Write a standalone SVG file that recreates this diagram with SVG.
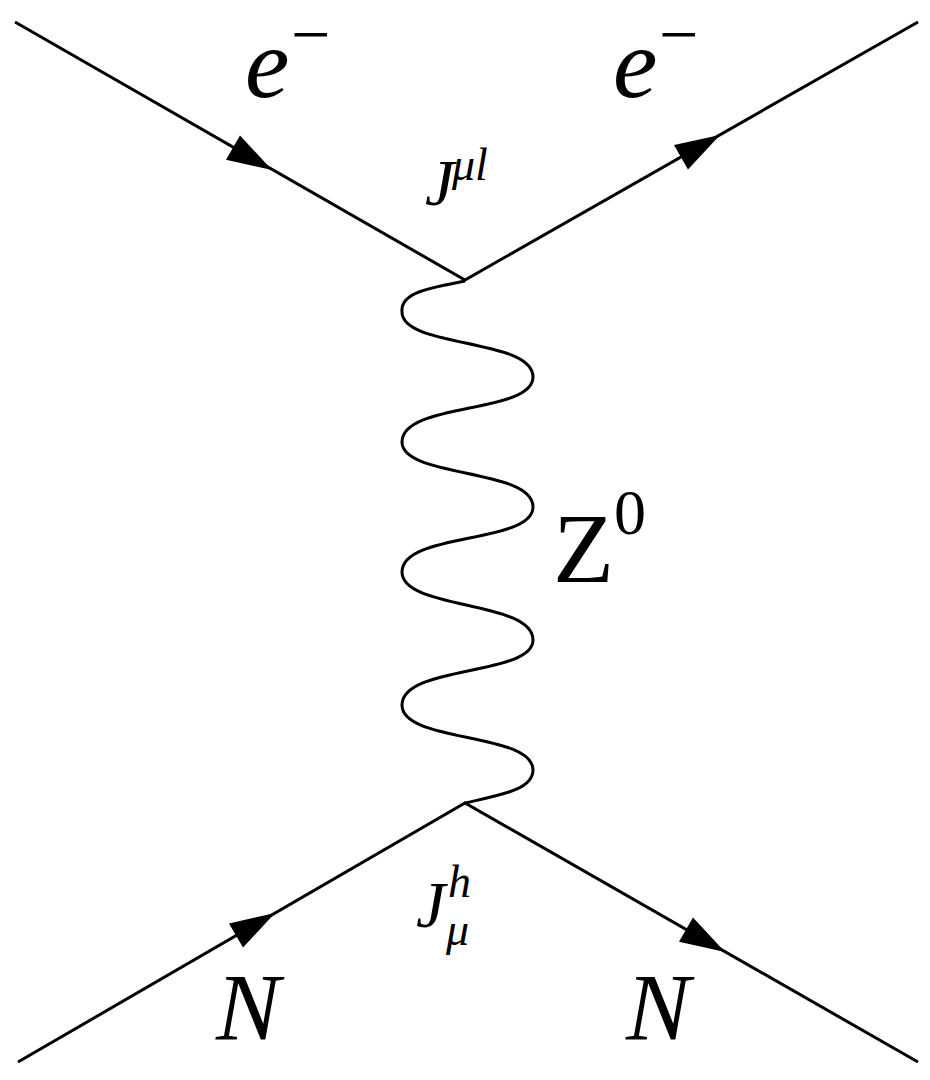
<svg xmlns="http://www.w3.org/2000/svg" width="930" height="1080" viewBox="0 0 930 1080">
<style>
.l{stroke:#000;stroke-width:3;fill:none}
.a{fill:#000}
.t{font-family:"Liberation Serif","Times New Roman","DejaVu Serif",serif;fill:#000}
.i{font-style:italic}
</style>
<rect width="930" height="1080" fill="#fff"/>
<g id="connectors">
<path class="l" d="M15,22 L465,280 L918,22"/>
<path class="l" d="M18,1062 L465,803 L918,1062"/>
<path class="l" d="M465,281 C430,288 400,292 402,312 C402,348 533,338 533,377 C533,414 402,402 402,442 C402,478 533,468 533,507 C533,544 402,532 402,572 C402,610 533,600 533,640 C533,676 402,665 402,705 C402,743 533,732 533,770 C533,790 500,795 465,803"/>
<polygon class="a" points="272,170 226,159.7 240,135.5"/>
<polygon class="a" points="720,135 688,169.5 674,145.1"/>
<polygon class="a" points="275,913 243,947.6 229,923.4"/>
<polygon class="a" points="725,952 679,941.8 693,917.6"/>
</g>
<g id="labels">
<text class="t i" x="245" y="97" font-size="100">e</text>
<text class="t" x="291" y="58" font-size="70">−</text>
<text class="t i" x="613" y="97" font-size="100">e</text>
<text class="t" x="659" y="58" font-size="70">−</text>
<text class="t i" x="425" y="205" font-size="66">J</text>
<text class="t i" x="452" y="180" font-size="46">μl</text>
<text class="t" x="553" y="582" font-size="100">Z</text>
<text class="t" x="614" y="534" font-size="64">0</text>
<text class="t i" x="416" y="927" font-size="66">J</text>
<text class="t i" x="448" y="897" font-size="46">h</text>
<text class="t i" x="446" y="945" font-size="46">μ</text>
<text class="t i" x="216" y="1040" font-size="96">N</text>
<text class="t i" x="626" y="1040" font-size="96">N</text>
</g>
</svg>
